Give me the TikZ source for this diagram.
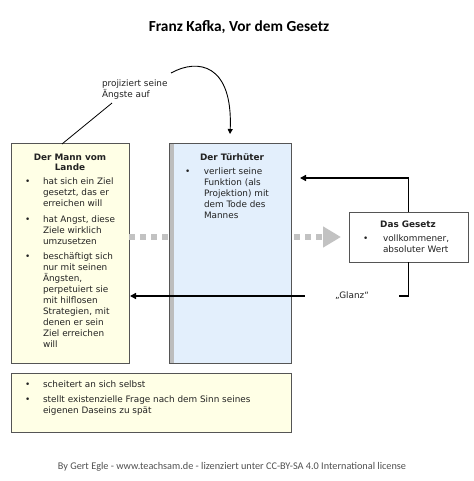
\documentclass[tikz,border=0pt]{standalone}
\usepackage{fontspec}
\setmainfont{DejaVu Sans}
\newfontfamily\titlefont{Carlito}
\usetikzlibrary{arrows.meta}
\definecolor{mannfill}{HTML}{FFFFE6}
\definecolor{tuerfill}{HTML}{E3EFFC}
\definecolor{stripegray}{HTML}{BDBDBD}
\definecolor{boxline}{HTML}{555555}
\definecolor{dashgray}{HTML}{C2C2C2}
\definecolor{textdark}{HTML}{222222}
\definecolor{footgray}{HTML}{505050}
\newcommand{\smalltext}{\fontsize{8.9}{11}\selectfont}
\begin{document}
\begin{tikzpicture}[x=1bp,y=-1bp,
  box/.style={draw=boxline, line width=1bp, inner sep=0pt, outer sep=0pt, anchor=north west},
  txt/.style={inner sep=0pt, outer sep=0pt, text=textdark, font=\smalltext},
  head/.style={txt, font=\smalltext\bfseries, align=center},
  lst/.style={txt, anchor=north west},
  blackarrow/.style={line width=1.6bp, -{Triangle[length=6bp,width=6bp]}},
  thinarrow/.style={line width=0.9bp, -{Triangle[length=5bp,width=5bp]}}
]
\useasboundingbox (0,0) rectangle (474,481);

% title
\node[inner sep=0pt] (title) at (239,27) {\titlefont\bfseries\fontsize{15.4}{17}\selectfont Franz Kafka, Vor dem Gesetz};

% boxes
\node[box, fill=mannfill, minimum width=118bp, minimum height=219bp] (mann) at (11,144) {};
\node[box, fill=white, draw=none, minimum width=119bp, minimum height=50bp] (gesetz) at (349,212) {};

% dashed grey arrow (behind the Tuerhueter box)
\draw[dashgray, line width=6bp, dash pattern=on 6bp off 5bp,
      -{Triangle[length=18bp,width=20bp]}]
  (mann.east |- gesetz.west) -- ([xshift=-8bp]gesetz.west);

\node[box, fill=tuerfill, minimum width=122bp, minimum height=219bp] (tuer) at (169,144) {};
\fill[stripegray] ([xshift=0.5bp,yshift=-0.5bp]tuer.north west) rectangle ([xshift=5bp,yshift=0.5bp]tuer.south west);
\draw[boxline, line width=1bp] (tuer.north west) rectangle (tuer.south east);

\node[box, minimum width=119bp, minimum height=50bp] (gesetzframe) at (349,212) {};
\node[box, fill=mannfill, minimum width=280bp, minimum height=59bp] (bottom) at (11,373) {};

% texts: Mann vom Lande
\node[head] (mannhead) at (70,162.5) {Der Mann vom\\[-0.5bp] Lande};
\node[lst] (mannlist) at (25,177) {%
\begin{tabular}{@{}p{18bp}@{}l@{}}
\textbullet & hat sich ein Ziel\\
 & gesetzt, das er\\
 & erreichen will\\[5bp]
\textbullet & hat Angst, diese\\
 & Ziele wirklich\\
 & umzusetzen\\[4bp]
\textbullet & beschäftigt sich\\
 & nur mit seinen\\
 & Ängsten,\\
 & perpetuiert sie\\
 & mit hilflosen\\
 & Strategien, mit\\
 & denen er sein\\
 & Ziel erreichen\\
 & will
\end{tabular}};

% Tuerhueter
\node[head] (tuerhead) at (232,157) {Der Türhüter};
\node[lst] (tuerlist) at (185,167) {%
\begin{tabular}{@{}p{19bp}@{}l@{}}
\textbullet & verliert seine\\
 & Funktion (als\\
 & Projektion) mit\\
 & dem Tode des\\
 & Mannes
\end{tabular}};

% Gesetz
\node[head] (gesetzhead) at (408,224) {Das Gesetz};
\node[lst] (gesetzlist) at (363,234) {%
\begin{tabular}{@{}p{20bp}@{}l@{}}
\textbullet & vollkommener,\\
 & absoluter Wert
\end{tabular}};

% bottom box
\node[lst] (bottomlist) at (25,380) {%
\begin{tabular}{@{}p{18bp}@{}l@{}}
\textbullet & scheitert an sich selbst\\[4bp]
\textbullet & stellt existenzielle Frage nach dem Sinn seines\\
 & eigenen Daseins zu spät
\end{tabular}};

% arrows from Gesetz
\coordinate (upperend) at ([xshift=9bp]tuer.east |- 0,178);
\draw[blackarrow] (gesetz.north) |- (upperend);
\draw[blackarrow] (gesetz.south) |- ([xshift=1bp]mann.east |- 0,296);
\node[txt, fill=white, minimum width=94bp, minimum height=8bp] (glanz) at (352,296) {„Glanz“};

% projection arrow
\node[txt, anchor=north west, align=left] (proj) at (102,79.5) {projiziert seine\\ Ängste auf};
\coordinate (projstart) at (171,73);
\draw[line width=0.8bp] ([xshift=51bp]mann.north west) -- ([xshift=10bp,yshift=-4bp]proj.south west);
\draw[thinarrow] (projstart) .. controls (198,58) and (233,64) .. ([yshift=10bp]tuer.north);

% footer
\node[inner sep=0pt, text=footgray] (footer) at (232,467) {\titlefont\fontsize{10.3}{12}\selectfont By Gert Egle - www.teachsam.de - lizenziert unter CC-BY-SA 4.0 International license};
\end{tikzpicture}
\end{document}
